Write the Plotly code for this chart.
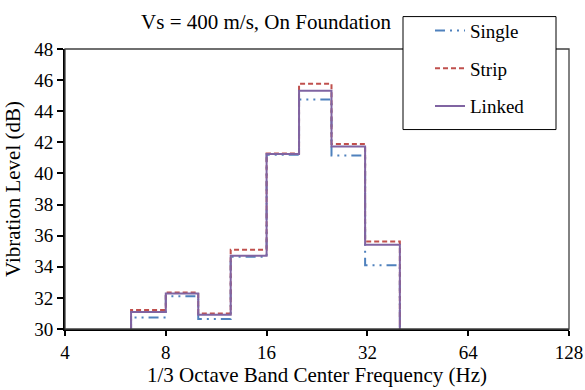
import math
import plotly.graph_objects as go

# Band edges (Hz): each level holds from its frequency up to the next one
freq_hz = [6.3, 8, 10, 12.5, 16, 20, 25, 31.5, 40]

# Vibration level per 1/3 octave band (dB)
single = [30.74, 32.10, 30.65, 34.65, 41.20, 44.76, 41.16, 34.10]
strip = [31.22, 32.34, 31.00, 35.10, 41.28, 45.77, 41.90, 35.62]
linked = [31.09, 32.29, 30.92, 34.71, 41.25, 45.31, 41.73, 35.41]

x_ticks = [4, 8, 16, 32, 64, 128]
y_min, y_max = 30, 48

FONT = "Liberation Serif"
W, H = 585, 390
L, R, T, B = 65, 16, 44, 61


def step_xy(levels):
    # rise from the floor at the first band, fall back at the last edge
    xs = [freq_hz[0]] + freq_hz
    ys = [y_min] + list(levels) + [y_min]
    return xs, ys


series = [
    ("Single", single, "#4F81BD", "10px,5px,2px,5px,2px,5px"),
    ("Strip", strip, "#C0504D", "5px,3px"),
    ("Linked", linked, "#8064A2", "solid"),
]

fig = go.Figure()
for name, vals, color, dash in series:
    xs, ys = step_xy(vals)
    fig.add_trace(go.Scatter(
        x=xs, y=ys, mode="lines", name=name, legendgroup=name,
        line=dict(color=color, width=2, dash=dash, shape="hv"),
    ))

pw = W - L - R
ph = H - T - B

fig.update_layout(
    width=W, height=H,
    margin=dict(l=L, r=R, t=T, b=B),
    paper_bgcolor="white", plot_bgcolor="white",
    font=dict(family=FONT, size=18, color="black"),
    title=dict(text="Vs = 400 m/s, On Foundation", x=266 / W, xref="container",
               xanchor="center", y=1 - 22 / H, yanchor="middle",
               font=dict(family=FONT, size=21, color="black")),
    showlegend=True,
    legend=dict(
        x=(430 - L) / pw, xanchor="left",
        y=1 + (T - 6) / ph, yanchor="top",
        bgcolor="rgba(0,0,0,0)", borderwidth=0,
        font=dict(family=FONT, size=19, color="black"),
        traceorder="grouped", tracegroupgap=10,
        itemwidth=30,
    ),
    shapes=[
        # plot frame
        dict(type="rect", xref="paper", yref="paper", x0=0, x1=1, y0=0, y1=1,
             line=dict(color="#404040", width=1.3), layer="above"),
        # legend box
        dict(type="rect", xref="paper", yref="paper",
             x0=(403 - L) / pw, x1=(556 - L) / pw,
             y0=1 + (T - 126) / ph, y1=1 + (T - 11) / ph,
             line=dict(color="black", width=1), fillcolor="white", layer="above"),
    ],
)

fig.update_xaxes(
    type="log", range=[math.log10(x_ticks[0]), math.log10(x_ticks[-1])],
    tickmode="array", tickvals=x_ticks, ticktext=[str(t) for t in x_ticks],
    showgrid=False, zeroline=False, automargin=False,
    showline=True, linecolor="black", linewidth=2,
    ticks="outside", ticklen=5, tickwidth=1.5, tickcolor="black",
    tickfont=dict(family=FONT, size=19),
    title=dict(text="1/3 Octave Band Center Frequency (Hz)",
               font=dict(family=FONT, size=21), standoff=6),
)
fig.update_yaxes(
    range=[y_min, y_max], dtick=2, tick0=y_min,
    showgrid=False, zeroline=False, automargin=False,
    showline=True, linecolor="black", linewidth=2,
    ticks="outside", ticklen=6, tickwidth=1.5, tickcolor="black",
    tickfont=dict(family=FONT, size=19),
    title=dict(text="Vibration Level (dB)",
               font=dict(family=FONT, size=21), standoff=8),
)

fig.write_html("out.html")
